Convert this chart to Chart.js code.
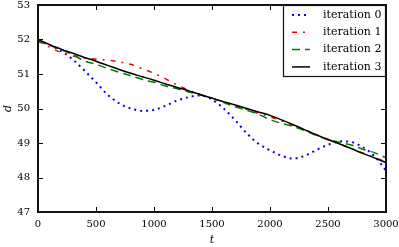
<!DOCTYPE html>
<html>
<head>
<meta charset="utf-8">
<script src="https://cdn.jsdelivr.net/npm/chart.js@4/dist/chart.umd.min.js"></script>
<style>
html,body{margin:0;padding:0;background:#fff;}
canvas{display:block;}
</style>
</head>
<body>
<canvas id="c" width="399" height="247"></canvas>
<script>
const tValues = [0,100,200,300,400,500,600,700,800,900,1000,1100,1200,1300,1400,1500,1600,1700,1800,1900,2000,2100,2200,2300,2400,2500,2600,2700,2800,2900,3000];
const iteration0 = [51.95,51.85,51.66,51.42,51.10,50.76,50.40,50.15,50.00,49.93,49.96,50.08,50.23,50.33,50.38,50.26,50.00,49.66,49.28,48.98,48.79,48.63,48.55,48.63,48.80,48.95,49.05,49.03,48.88,48.62,48.20];
const iteration1 = [51.95,51.78,51.62,51.52,51.46,51.43,51.40,51.35,51.28,51.15,51.02,50.86,50.68,50.53,50.41,50.30,50.19,50.08,49.97,49.86,49.76,49.64,49.51,49.38,49.24,49.10,48.97,48.84,48.71,48.58,48.45];
const iteration2 = [51.95,51.83,51.70,51.56,51.38,51.28,51.16,51.05,50.95,50.84,50.76,50.65,50.57,50.48,50.40,50.30,50.17,50.05,49.95,49.83,49.68,49.57,49.48,49.36,49.22,49.10,49.02,48.94,48.82,48.72,48.57];
const iteration3 = [52.00,51.85,51.72,51.60,51.48,51.37,51.25,51.13,51.02,50.92,50.82,50.71,50.61,50.51,50.40,50.30,50.20,50.10,50.00,49.90,49.80,49.67,49.53,49.38,49.24,49.10,48.97,48.84,48.70,48.57,48.43];
const seriesNames = ['iteration 0','iteration 1','iteration 2','iteration 3'];
const yTicks = [47,48,49,50,51,52,53];
const xTicks = [0,500,1000,1500,2000,2500,3000];

const toPts = arr => arr.map((v,i)=>({x:tValues[i], y:v}));
const styles = [
  {color:'#0000ff', width:2, dash:[2,4]},
  {color:'#ff0000', width:1.5, dash:[5,6,2,6]},
  {color:'#008000', width:1.5, dash:[8,5]},
  {color:'#000000', width:1.5, dash:[]}
];
const allSeries = [iteration0, iteration1, iteration2, iteration3];
const datasets = allSeries.map((s,i)=>({
  label: seriesNames[i],
  data: toPts(s),
  borderColor: styles[i].color,
  borderWidth: styles[i].width,
  borderDash: styles[i].dash,
  pointRadius: 0,
  fill: false,
  cubicInterpolationMode: 'monotone',
  order: 4-i
}));

const FONT = "'DejaVu Serif', serif";

const framePlugin = {
  id: 'frame',
  afterDraw(chart) {
    const ctx = chart.ctx;
    const a = chart.chartArea;
    const xs = chart.scales.x, ys = chart.scales.y;
    ctx.save();
    ctx.strokeStyle = '#000';
    ctx.lineWidth = 1;
    const L = 5;
    xTicks.forEach(v => {
      const px = Math.round(xs.getPixelForValue(v)) + 0.5;
      ctx.beginPath();
      ctx.moveTo(px, a.bottom); ctx.lineTo(px, a.bottom - L);
      ctx.moveTo(px, a.top); ctx.lineTo(px, a.top + L);
      ctx.stroke();
    });
    yTicks.forEach(v => {
      const py = Math.round(ys.getPixelForValue(v)) + 0.5;
      ctx.beginPath();
      ctx.moveTo(a.left, py); ctx.lineTo(a.left + L, py);
      ctx.moveTo(a.right, py); ctx.lineTo(a.right - L, py);
      ctx.stroke();
    });
    // legend
    const lx = a.right - 103, ly = a.top, lw = 103, lh = 72;
    ctx.fillStyle = '#fff';
    ctx.fillRect(lx, ly, lw, lh);
    ctx.strokeStyle = '#111';
    ctx.lineWidth = 1.2;
    ctx.strokeRect(lx + 0.5, ly + 0.5, lw - 1, lh - 1);
    ctx.font = "11px " + FONT;
    ctx.textBaseline = 'middle';
    ctx.textAlign = 'left';
    chart.data.datasets.forEach((ds, i) => {
      const rowY = ly + 10 + i * 17.3;
      ctx.beginPath();
      ctx.strokeStyle = ds.borderColor;
      ctx.lineWidth = ds.borderWidth;
      ctx.setLineDash(ds.borderDash);
      ctx.moveTo(lx + 9, rowY);
      ctx.lineTo(lx + 27, rowY);
      ctx.stroke();
      ctx.setLineDash([]);
      ctx.fillStyle = '#000';
      ctx.fillText(ds.label, lx + 40, rowY);
    });
    // frame
    ctx.strokeStyle = '#111';
    ctx.lineWidth = 2;
    ctx.strokeRect(a.left, a.top, a.right - a.left, a.bottom - a.top);
    ctx.restore();
  }
};

new Chart(document.getElementById('c'), {
  type: 'line',
  data: { datasets },
  options: {
    responsive: false,
    devicePixelRatio: 1,
    animation: false,
    layout: { padding: { left: 0, right: 13, top: 5, bottom: 0 } },
    plugins: { legend: { display: false }, tooltip: { enabled: false } },
    scales: {
      x: {
        type: 'linear', min: 0, max: 3000,
        afterBuildTicks: s => { s.ticks = xTicks.map(v => ({value: v})); },
        ticks: { font: { family: FONT, size: 10 }, color: '#000', padding: 6, maxRotation: 0, callback: v => String(v) },
        grid: { display: false, drawTicks: false },
        border: { display: false },
        title: { display: true, text: 't', font: { family: FONT, size: 11, style: 'italic' }, color: '#000', padding: { top: 0, bottom: 0 } },
        afterFit: s => { s.height = 35; s.paddingLeft = 0; s.paddingRight = 0; }
      },
      y: {
        min: 47, max: 53,
        afterBuildTicks: s => { s.ticks = yTicks.map(v => ({value: v})); },
        ticks: { font: { family: FONT, size: 10 }, color: '#000', padding: 8, callback: v => String(v) },
        grid: { display: false, drawTicks: false },
        border: { display: false },
        title: { display: true, text: 'd', font: { family: FONT, size: 11, style: 'italic' }, color: '#000', padding: { top: 2, bottom: 0 } },
        afterFit: s => { s.width = 38; s.paddingTop = 0; s.paddingBottom = 0; }
      }
    }
  },
  plugins: [framePlugin]
});
</script>
</body>
</html>
